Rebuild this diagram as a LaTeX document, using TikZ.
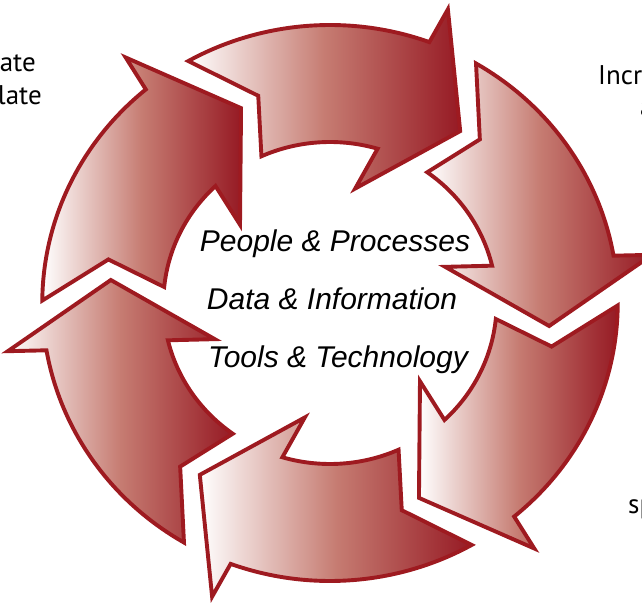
\documentclass[tikz,border=0pt]{standalone}
\usepackage{fontspec}
\setmainfont{Liberation Sans}
\newfontfamily\sidefont{PT Sans}
\usepackage{tikz}
\definecolor{arrowdark}{RGB}{150,26,36}
\definecolor{arrowmid}{RGB}{198,124,114}
\definecolor{arrowline}{RGB}{158,26,32}
\tikzstyle{cyclearrow} = [draw=arrowline, line width=3.9pt, line join=miter, left color=white, right color=arrowdark, middle color=arrowmid]
\tikzstyle{hubtext} = [inner sep=0pt, anchor=base, font=\itshape\fontsize{30}{35}\selectfont]
\tikzstyle{sidetext} = [inner sep=0pt, font=\sidefont\fontsize{27}{32}\selectfont]

\begin{document}
\begin{tikzpicture}[x=1pt,y=1pt]
\useasboundingbox (-330,-299) rectangle (312,303);
\clip (-330,-299) rectangle (312,303);

% six curved arrows, clockwise
\begin{scope}[xscale=1.035]
\foreach \t [count=\n] in {120,60,0,-60,-120,-180}
\draw[cyclearrow] (\t-0.5:278) arc[start angle=\t-0.5, end angle=\t-50.2, radius=278]
  -- (\t-51.2:315) -- (\t-66.2:213) -- (\t-42:117) -- (\t-46.6:161)
  arc[start angle=\t-46.6, end angle=\t-5.7, radius=161] -- (\t-11.5:218.5) -- cycle;
\end{scope}

\node[hubtext] (people) at (5,51) {People \& Processes};
\node[hubtext] (data) at (2,-7) {Data \& Information};
\node[hubtext] (tools) at (8,-64) {Tools \& Technology};

% cut labels at the edges
\node[sidetext, anchor=base east] (leftA) at (-294,231) {ate};
\node[sidetext, anchor=base east] (leftB) at (-288,198) {late};
\node[sidetext, anchor=base west] (rightA) at (268,218) {Incr};
\node[sidetext, anchor=base west] (rightB) at (310,186) {a};
\node[sidetext, anchor=base west] (lowright) at (298,-210) {sp};

\end{tikzpicture}
\end{document}
